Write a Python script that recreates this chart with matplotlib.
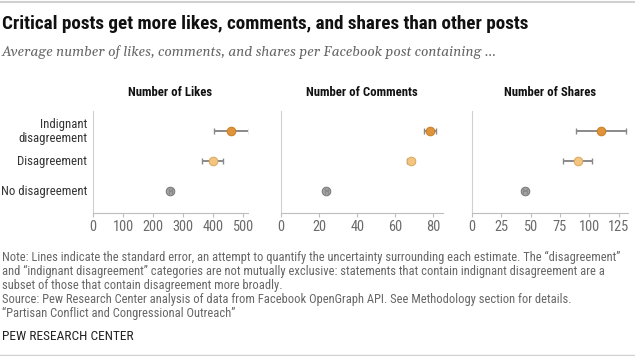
import matplotlib.pyplot as plt
from matplotlib.lines import Line2D

# Data
categories = ["Indignant\ndisagreement", "Disagreement", "No disagreement"]
panel_titles = ["Number of Likes", "Number of Comments", "Number of Shares"]

likes = [460, 398, 257]
likes_err = [57, 35, 6]
comments = [78, 68, 23.8]
comments_err = [3.2, 1.8, 0.6]
shares = [110, 90, 45]
shares_err = [21, 12.5, 1.5]

values = [likes, comments, shares]
errors = [likes_err, comments_err, shares_err]
xlims = [(0, 515), (0, 85), (0, 133)]
xticks = [[0, 100, 200, 300, 400, 500], [0, 20, 40, 60, 80], [0, 25, 50, 75, 100, 125]]

face_colors = ["#E0943A", "#F3C580", "#A3A3A3"]
edge_colors = ["#C97E25", "#D9A85E", "#777777"]

W, H = 635, 356
NARROW = ["Roboto Condensed", "Liberation Sans", "DejaVu Sans"]
SERIF = ["Gelasio", "Liberation Serif", "DejaVu Serif"]

fig = plt.figure(figsize=(W / 100, H / 100), dpi=100)


def px_axes(x0, x1, ytop, ybot):
    # build an axes from pixel edges (y measured from the top)
    return fig.add_axes([x0 / W, 1 - ybot / H, (x1 - x0) / W, (ybot - ytop) / H])


# Pixel edges of each panel
panel_px = [(93, 248), (281, 443), (472, 628)]
rows = [0, 1, 2]

for i, (x0, x1) in enumerate(panel_px):
    ax = px_axes(x0, x1, 111, 213)
    for r in rows:
        top = r == 2
        ax.errorbar(values[i][r], r, xerr=errors[i][r], fmt="none",
                    ecolor="#8a8a8a", elinewidth=1.4, capsize=2.2,
                    capthick=1.0, zorder=4 if top else 2)
        ax.plot(values[i][r], r, "o", ms=6.2, mfc=face_colors[r],
                mec=edge_colors[r], mew=0.7, zorder=3)
    ax.set_xlim(*xlims[i])
    ax.set_ylim(2.733, -0.667)
    ax.set_xticks(xticks[i])
    ax.set_yticks([])
    for side in ["top", "right"]:
        ax.spines[side].set_visible(False)
    ax.spines["left"].set_color("#d0d0d0")
    ax.spines["bottom"].set_color("#bdbdbd")
    ax.tick_params(axis="x", length=3, color="#bdbdbd", pad=2,
                   labelsize=10.4, labelcolor="#6b6b6b")
    for lab in ax.get_xticklabels():
        lab.set_family(NARROW)
    ax.set_title(panel_titles[i], fontsize=9.2, fontweight="bold",
                 family=NARROW, color="#111111", pad=0, y=1.0 + 15 / 102)
    if i == 0:
        for r, cat in enumerate(categories):
            ax.text(-6 / 0.301, r, cat, ha="right", va="center", fontsize=9.2,
                    color="#333333", family=NARROW, linespacing=1.1)

# Title, subtitle
fig.text(2 / W, 1 - 24 / H, "Critical posts get more likes, comments, and shares than other posts",
         fontsize=13.8, fontweight="bold", family=NARROW, color="#111111", va="center")
fig.text(2 / W, 1 - 52 / H, "Average number of likes, comments, and shares per Facebook post containing …",
         fontsize=9.9, style="italic", family=SERIF, color="#666666", va="center")

# Footer
notes = [
    "Note: Lines indicate the standard error, an attempt to quantify the uncertainty surrounding each estimate. The \u201cdisagreement\u201d",
    "and \u201cindignant disagreement\u201d categories are not mutually exclusive: statements that contain indignant disagreement are a",
    "subset of those that contain disagreement more broadly.",
    "Source: Pew Research Center analysis of data from Facebook OpenGraph API. See Methodology section for details.",
    "\u201cPartisan Conflict and Congressional Outreach\u201d",
]
for k, line in enumerate(notes):
    fig.text(2 / W, 1 - (257 + 14.2 * k) / H, line, fontsize=9.0, family=NARROW,
             color="#666666", va="center")
fig.text(2 / W, 1 - 337 / H, "PEW RESEARCH CENTER", fontsize=9.6, family=NARROW,
         color="#222222", va="center")

# Rules at top and bottom
fig.add_artist(Line2D([0, 1], [1 - 1.7 / H] * 2, color="#d0d0d0", lw=1.5))
fig.add_artist(Line2D([0, 1], [1 - 354.5 / H] * 2, color="#d0d0d0", lw=1.0))

fig.savefig("out.png", dpi=100)
